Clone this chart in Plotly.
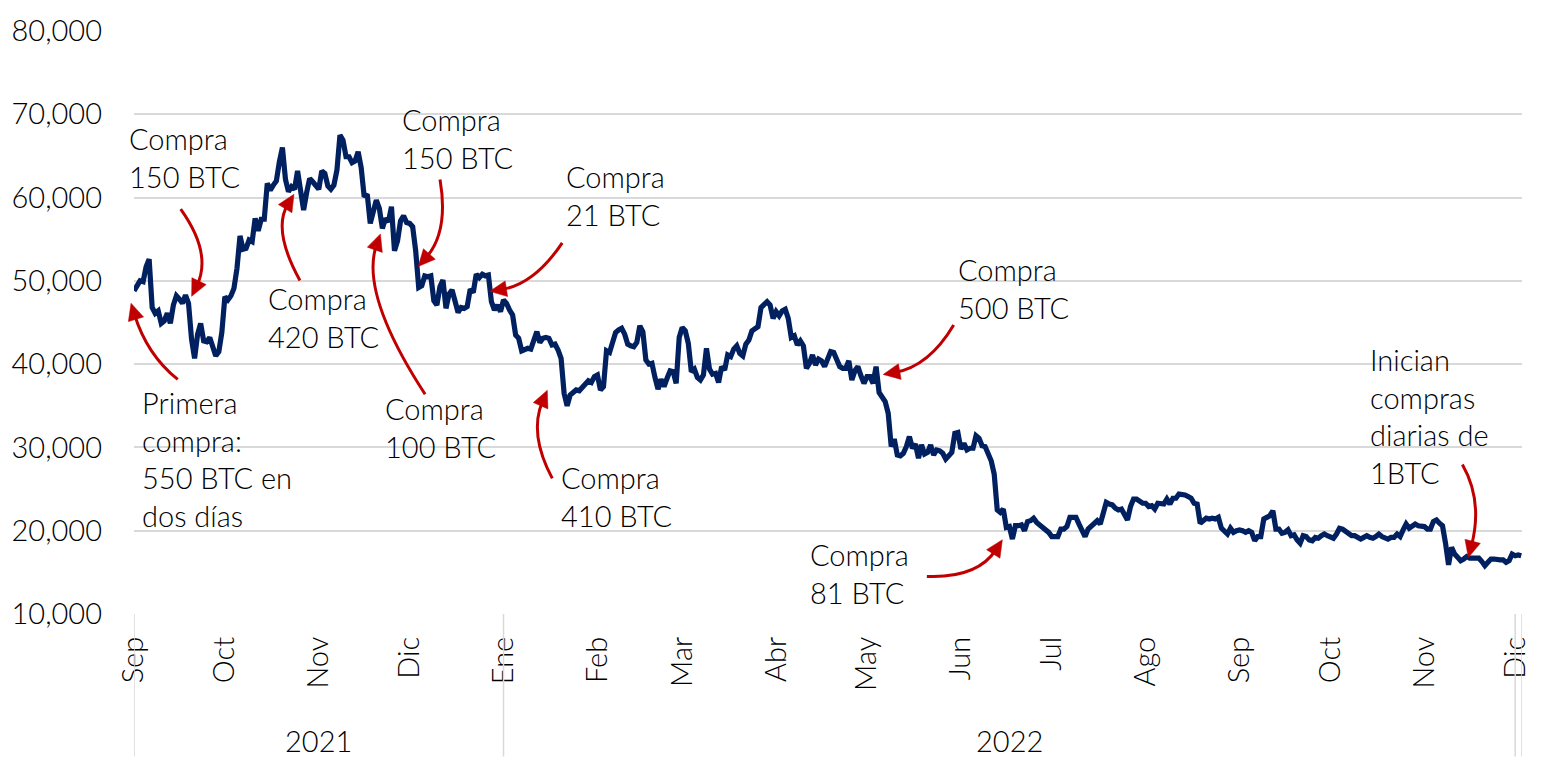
import math
import pandas as pd
import plotly.graph_objects as go

# ---------------- data (BTC daily price, USD) ----------------
sep21 = [48800, 49300, 50000, 49900, 51700, 52600, 46800, 46100, 46400, 44900, 45200, 46100, 44900, 47100, 48200,
         47800, 47300, 48300, 47300, 43000, 40700, 43600, 44900, 42800, 42700, 43200, 42200, 41000, 41500, 43800]
oct21 = [48100, 47700, 48200, 49100, 51500, 55400, 53800, 53900, 54900, 54700, 57500, 56000, 57400, 57400, 61700,
         60900, 61500, 62000, 64300, 66000, 62200, 60700, 61300, 61000, 63200, 60300, 58500, 60600, 62300, 61900, 61300]
nov21 = [61000, 63200, 62900, 61400, 61000, 61500, 63300, 67500, 66900, 64900, 64900, 64200, 64400, 65500, 63600,
         60100, 60400, 56900, 58100, 59700, 58700, 56300, 57500, 57100, 58900, 53600, 54800, 57200, 57800, 57000]
dec21 = [56900, 56500, 53600, 49200, 49400, 50600, 50500, 50600, 47600, 47100, 49300, 50100, 46700, 48400, 48900,
         47600, 46200, 46800, 46700, 46900, 49000, 48600, 50800, 50400, 50800, 50600, 50700, 47500, 46500, 47100, 46300]
jan22 = [47700, 47300, 46500, 45900, 43500, 43100, 41600, 41800, 41900, 41800, 42700, 43900, 42600, 43100, 43200,
         43100, 42300, 42400, 41700, 40700, 36500, 35000, 36300, 36700, 36900, 36800, 37200, 37700, 38000, 37800, 38500]
feb22 = [38700, 36900, 37300, 41600, 41400, 42400, 43800, 44100, 44300, 43600, 42400, 42200, 42100, 42600, 44600,
         43900, 40500, 40000, 40100, 38400, 37000, 38200, 37300, 38300, 39200, 39100, 37700, 43200]
mar22 = [44400, 44000, 42500, 39100, 39400, 38400, 38100, 38700, 41900, 39400, 38800, 38900, 37800, 39700, 39300,
         41100, 40900, 41800, 42200, 41300, 41000, 42400, 42900, 44000, 44300, 44500, 46800, 47100, 47500, 47100, 45500]
apr22 = [46300, 45800, 46400, 46600, 45500, 43200, 43400, 42300, 42800, 42200, 39500, 40100, 41100, 39900, 40600,
         40400, 39700, 40800, 41500, 41400, 40500, 39700, 39500, 39500, 40400, 38100, 39200, 39700, 38600, 37700]
may22 = [38500, 38500, 37700, 39700, 36600, 36000, 35500, 34100, 30100, 31000, 29100, 29000, 29300, 30100, 31300,
         29900, 30400, 28700, 30300, 29200, 29400, 30300, 29100, 29700, 29600, 29300, 28600, 29000, 29400, 31700, 31800]
jun22 = [29800, 30500, 29700, 29900, 29900, 31400, 31100, 30200, 30100, 29100, 28400, 26800, 22500, 22200, 22600,
         20400, 20500, 19000, 20600, 20600, 20700, 20000, 21100, 21200, 21500, 21000, 20700, 20300, 20100, 19800]
jul22 = [19300, 19300, 19300, 20200, 20200, 20500, 21600, 21600, 21600, 20800, 20000, 19300, 20200, 20600, 20800,
         21200, 20800, 22400, 23400, 23200, 23100, 22700, 22500, 22600, 22000, 21300, 22900, 23800, 23800, 23600, 23300]
aug22 = [23300, 22900, 23000, 22600, 23300, 23200, 23200, 23800, 23200, 23900, 23900, 24400, 24400, 24300, 24100,
         23900, 23300, 23200, 20900, 21200, 21500, 21400, 21500, 21400, 21600, 20300, 20000, 19600, 20300, 19800, 20000]
sep22 = [20100, 20000, 19800, 20000, 19800, 18800, 19300, 19300, 21400, 21600, 21800, 22400, 20200, 20200, 19700,
         19800, 20100, 19400, 19500, 18900, 18500, 19400, 19300, 18900, 18800, 19200, 19100, 19400, 19600, 19400]
oct22 = [19300, 19100, 19600, 20300, 20200, 19900, 19500, 19400, 19400, 19100, 19000, 19200, 19400, 19200, 19100,
         19300, 19600, 19300, 19100, 19000, 19200, 19200, 19600, 19300, 20100, 20800, 20300, 20600, 20800, 20600, 20500]
nov22 = [20500, 20200, 20200, 21100, 21300, 20900, 20600, 18500, 15900, 18000, 17200, 16800, 16400, 16600, 16900,
         16700, 16700, 16700, 16700, 16300, 15800, 16200, 16600, 16600, 16500, 16500, 16500, 16200, 16400, 17200]
dec22 = [17000, 17100, 17000]

start_date = "2021-09-01"
month_ticks = ["2021-09-01", "2021-10-01", "2021-11-01", "2021-12-01", "2022-01-01", "2022-02-01", "2022-03-01",
               "2022-04-01", "2022-05-01", "2022-06-01", "2022-07-01", "2022-08-01", "2022-09-01", "2022-10-01",
               "2022-11-01", "2022-12-01"]
month_labels = ["Sep", "Oct", "Nov", "Dic", "Ene", "Feb", "Mar", "Abr", "May", "Jun", "Jul", "Ago", "Sep", "Oct",
                "Nov", "Dic"]
year_labels = ["2021", "2022"]
year_centers = ["2021-11-01", "2022-06-17"]
year_dividers = ["2021-09-01", "2022-01-01", "2022-12-01", "2022-12-03 06:00"]
y_ticks = [10000, 20000, 30000, 40000, 50000, 60000, 70000, 80000]

prices = (sep21 + oct21 + nov21 + dec21 + jan22 + feb22 + mar22 + apr22 + may22 + jun22 + jul22 + aug22 +
          sep22 + oct22 + nov22 + dec22)
dates = pd.date_range(start_date, periods=len(prices), freq="D")

# ---------------- layout constants ----------------
W, H = 1543, 758
PL, PR, PT, PB = 133, 1530, 25, 614   # plot area in pixels
FONT = "Lato"
FS = 29
FW = 300
RED = "#c00000"
NAVY = "#002060"
GRID = "#d9d9d9"
TXT = "#000000"


def px2paper(x, y):
    return (x - PL) / (PR - PL), (PB - y) / (PB - PT)


# annotations: text, top-left position (px), arrow tail, control, tip (px)
notes = [
    ("Primera<br>compra:<br>550 BTC en<br>dos días", (139, 381), (177, 377), (146, 352), (130, 300)),
    ("Compra<br>150 BTC", (126, 114), (180, 205), (212, 250), (191, 293)),
    ("Compra<br>420 BTC", (266, 276), (300, 277), (272, 226), (294, 190)),
    ("Compra<br>100 BTC", (384, 387), (426, 392), (360, 290), (381, 230)),
    ("Compra<br>150 BTC", (401, 95), (441, 175), (450, 228), (419, 263)),
    ("Compra<br>21 BTC", (566, 152), (564, 239), (536, 281), (491, 288)),
    ("Compra<br>410 BTC", (561, 456), (554, 477), (530, 432), (549, 388)),
    ("Compra<br>500 BTC", (960, 246), (958, 322), (933, 364), (887, 372)),
    ("Compra<br>81 BTC", (811, 534), (931, 576), (982, 578), (1007, 539)),
    ("Inician<br>compras<br>diarias de<br>1BTC", (1375, 337), (1470, 463), (1491, 500), (1476, 557)),
]

fig = go.Figure()
fig.add_trace(go.Scatter(x=dates, y=prices, mode="lines",
                         line=dict(color=NAVY, width=5.2), hoverinfo="x+y", showlegend=False))

shapes = []
annotations = []
HL, HW = 17, 16  # arrow head length / width in px
for text, (tx, ty), tail, ctrl, tip in notes:
    ux, uy = tip[0] - ctrl[0], tip[1] - ctrl[1]
    n = math.hypot(ux, uy)
    ux, uy = ux / n, uy / n
    bx, by = tip[0] - HL * ux, tip[1] - HL * uy
    nx, ny = -uy, ux
    end = (tip[0] - 0.7 * HL * ux, tip[1] - 0.7 * HL * uy)
    p0 = px2paper(*tail)
    p1 = px2paper(*ctrl)
    p2 = px2paper(*end)
    shapes.append(dict(type="path", xref="paper", yref="paper",
                       path=f"M {p0[0]},{p0[1]} Q {p1[0]},{p1[1]} {p2[0]},{p2[1]}",
                       line=dict(color=RED, width=3)))
    a = px2paper(*tip)
    b = px2paper(bx + nx * HW / 2, by + ny * HW / 2)
    c = px2paper(bx - nx * HW / 2, by - ny * HW / 2)
    shapes.append(dict(type="path", xref="paper", yref="paper",
                       path=f"M {a[0]},{a[1]} L {b[0]},{b[1]} L {c[0]},{c[1]} Z",
                       fillcolor=RED, line=dict(color=RED, width=0.5)))
    qx, qy = px2paper(tx, ty)
    annotations.append(dict(text=text, x=qx, y=qy, xref="paper", yref="paper", xanchor="left", yanchor="top",
                            align="left", showarrow=False,
                            font=dict(family=FONT, size=FS, color=TXT, weight=FW)))

# category dividers below the x axis
for d in year_dividers:
    shapes.append(dict(type="line", xref="x", yref="paper", x0=d, x1=d, y0=0, y1=-(H - PB) / (PB - PT),
                       line=dict(color=GRID, width=1.5)))

for lab, c in zip(year_labels, year_centers):
    annotations.append(dict(text=lab, x=c, xref="x", y=(PB - 742) / (PB - PT), yref="paper", showarrow=False,
                            xanchor="center", yanchor="middle",
                            font=dict(family=FONT, size=FS, color=TXT, weight=FW)))

fig.update_layout(
    width=W, height=H, autosize=False,
    margin=dict(l=PL, r=W - PR, t=PT, b=H - PB),
    paper_bgcolor="white", plot_bgcolor="white",
    shapes=shapes, annotations=annotations,
    font=dict(family=FONT, size=FS, color=TXT, weight=FW),
    xaxis=dict(type="date", range=[start_date, "2022-12-03 06:00"], tickmode="array",
               tickvals=month_ticks, ticktext=month_labels, tickangle=-90, showgrid=False,
               zeroline=False, showline=False, ticks="", ticklabelstandoff=16,
               tickfont=dict(family=FONT, size=FS, color=TXT, weight=FW)),
    yaxis=dict(range=[10000, 80000], tickvals=y_ticks, tickformat=",", showgrid=True, gridcolor=GRID,
               gridwidth=1.5, zeroline=False, showline=False, ticks="", ticklabelstandoff=31,
               tickfont=dict(family=FONT, size=FS, color=TXT, weight=FW)),
)

fig.write_html("out.html", config={"displayModeBar": False},
               post_script="document.body.style.margin='0';document.body.style.overflow='hidden';")
